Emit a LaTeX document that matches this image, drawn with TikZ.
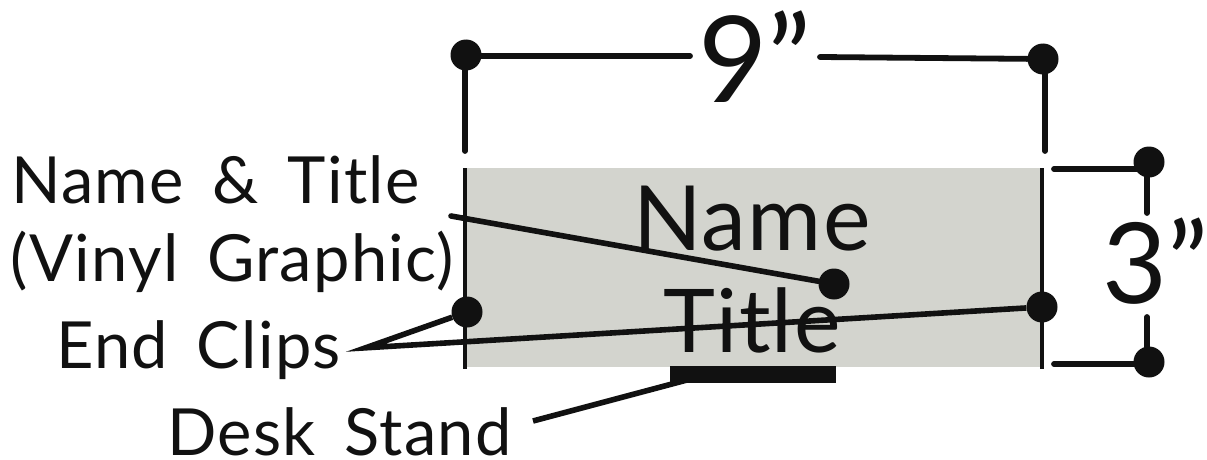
\documentclass[tikz,border=0pt]{standalone}
\usepackage{fontspec}
\setmainfont{Lato}
\newfontfamily\spaced[LetterSpace=2,WordSpace=1.6]{Lato}
\newfontfamily\spacedb[LetterSpace=1.5]{Lato}
\definecolor{ink}{HTML}{111111}
\definecolor{panel}{HTML}{D3D4CE}
\tikzset{
  dimline/.style={draw=ink,line width=5.8pt,line cap=round},
  frameline/.style={draw=ink,line width=4.6pt},
  leader/.style={draw=ink,line width=5.6pt},
  dot/.style={circle,fill=ink,inner sep=0pt,minimum size=31pt},
  lbl/.style={inner sep=0pt,text=ink,anchor=base west,font=\spaced\fontsize{65}{65}\selectfont},
  big/.style={inner sep=0pt,text=ink,anchor=base},
}
\begin{document}
\begin{tikzpicture}[x=1pt,y=-1pt]
\useasboundingbox (0,0) rectangle (1207,460);
\fill[panel] (466,168) rectangle (1042,367);
\node[dot] (tl) at (466,55) {};
\node[dot] (tr) at (1043,59) {};
\node[dot] (rt) at (1149,162) {};
\node[dot] (rb) at (1149,362) {};
\node[dot] (clipl) at (467,312) {};
\node[dot] (clipr) at (1042,307) {};
\node[dot] (nt) at (834,284) {};
\coordinate (leftstart) at (465,56);
\coordinate (lefttop) at (465,151);
\coordinate (rightstart) at (1045,59);
\coordinate (righttop) at (1045,151);
\coordinate (leftupper) at (465,168);
\coordinate (leftlower) at (465,369);
\coordinate (rightupper) at (1042,168);
\coordinate (rightlower) at (1042,369);
\coordinate (rt1) at (1054,169);
\coordinate (rt2) at (1147,169);
\coordinate (rb1) at (1054,364);
\coordinate (rb2) at (1147,364);
\coordinate (rvt) at (1147,213);
\coordinate (rvb) at (1147,317);
\coordinate (clipsrc) at (365.6,347.8);
\coordinate (namesrc) at (451,216);
\coordinate (desksrc) at (533,421);
\coordinate (deskend) at (702,376);
\coordinate (nl) at (690,56);
\coordinate (nr) at (820,57);
\node[big,font=\fontsize{120}{120}\selectfont] (nine) at (755,102) {9"};
\node[big,font=\fontsize{112}{112}\selectfont] (three) at (1155,303) {3"};
\node[big,font=\spacedb\fontsize{90}{90}\selectfont] (nm) at (752,250) {Name};
\node[big,font=\spacedb\fontsize{88}{88}\selectfont] (ti) at (752,352) {Title};
\node[lbl] (l1) at (11,203) {Name \& Title};
\node[lbl] (l2) at (10,281) {(Vinyl Graphic)};
\node[lbl] (l3) at (56,368) {End Clips};
\node[lbl] (l4) at (167,455) {Desk Stand};
\draw[dimline] (leftstart) -- (nl);
\draw[dimline] (nr) -- (tr);
\draw[dimline] (leftstart) -- (lefttop);
\draw[dimline] (rightstart) -- (righttop);
\draw[frameline] (leftupper) -- (leftlower);
\draw[frameline] (rightupper) -- (rightlower);
\draw[dimline] (rt1) -- (rt2);
\draw[dimline] (rb1) -- (rb2);
\draw[dimline] (rt2) -- (rvt);
\draw[dimline] (rvb) -- (rb2);
\draw[leader,line cap=round] (namesrc) -- (nt);
\draw[leader,miter limit=12] (clipl) -- (clipsrc) -- (clipr);
\fill[ink] (670,366) rectangle (836,383);
\draw[leader] (desksrc) -- (deskend);
\end{tikzpicture}
\end{document}
